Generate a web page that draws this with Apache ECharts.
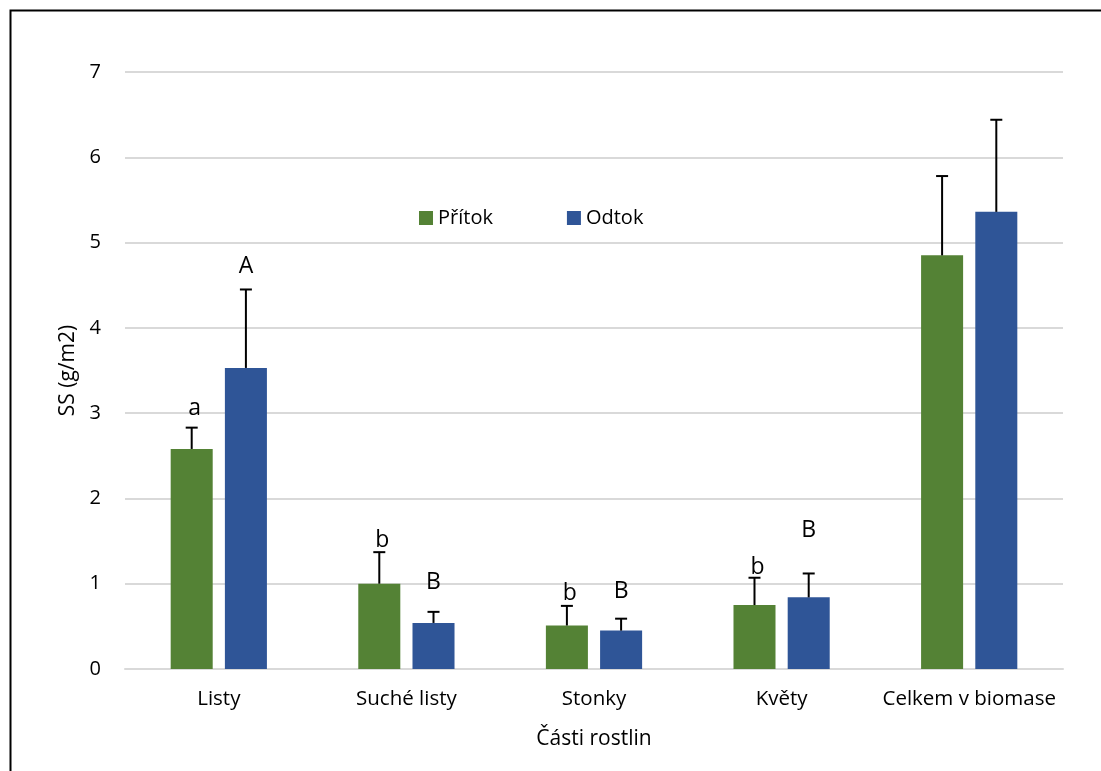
<!DOCTYPE html>
<html>
<head>
<meta charset="utf-8">
<script src="https://cdn.jsdelivr.net/npm/echarts@6/dist/echarts.min.js"></script>
<style>
  html, body { margin: 0; padding: 0; background: #fff; }
  #chart { width: 1101px; height: 771px; }
</style>
</head>
<body>
<div id="chart"></div>
<script>
// Plant parts on the category axis
const categories = ['Listy', 'Suché listy', 'Stonky', 'Květy', 'Celkem v biomase'];
const seriesNames = ['Přítok', 'Odtok'];

// Mean SS (g/m2) per plant part
const pritok = [2.58, 1.00, 0.51, 0.75, 4.85];
const odtok  = [3.53, 0.54, 0.45, 0.84, 5.36];

// Upper error (standard deviation) added on top of each mean
const pritokErr = [0.25, 0.37, 0.23, 0.32, 0.93];
const odtokErr  = [0.92, 0.13, 0.14, 0.28, 1.08];

// Significance letters and the height (in g/m2) where each is written
const pritokLetters = ['a', 'b', 'b', 'b', ''];
const pritokLetterY = [3.06, 1.51, 0.88, 1.19, null];
const odtokLetters  = ['A', 'B', 'B', 'B', ''];
const odtokLetterY  = [4.72, 1.02, 0.91, 1.63, null];

// Axis ticks
const yMin = 0, yMax = 7, yStep = 1;

const colors = ['#548235', '#2F5597'];
const FONT = '"Open Sans"';
const BAR_W = 0.224;   // bar width as share of a category band
const BAR_GAP = 0.29;  // gap between the two bars, share of bar width

function barOffset(api, s) {
  const band = api.size([1, 0])[0];
  const w = band * BAR_W;
  const d = (w + w * BAR_GAP) / 2;
  return s === 0 ? -d : d;
}

function errorSeries(s, means, errs) {
  return {
    type: 'custom',
    name: seriesNames[s] + ' err',
    z: 5,
    silent: true,
    data: means.map((m, i) => [i, m, m + errs[i]]),
    renderItem: function (params, api) {
      const i = api.value(0);
      const lo = api.coord([i, api.value(1)]);
      const hi = api.coord([i, api.value(2)]);
      const x = lo[0] + barOffset(api, s);
      const cap = 6;
      const style = { stroke: '#000', lineWidth: 2 };
      return {
        type: 'group',
        children: [
          { type: 'line', shape: { x1: x, y1: lo[1], x2: x, y2: hi[1] }, style: style },
          { type: 'line', shape: { x1: x - cap, y1: hi[1], x2: x + cap, y2: hi[1] }, style: style }
        ]
      };
    }
  };
}

function letterSeries(s, letters, ys) {
  return {
    type: 'custom',
    name: seriesNames[s] + ' letters',
    z: 6,
    silent: true,
    data: letters.map((t, i) => [i, ys[i] == null ? 0 : ys[i], t]),
    renderItem: function (params, api) {
      const i = params.dataIndex;
      const t = letters[i];
      if (!t) return null;
      const p = api.coord([api.value(0), api.value(1)]);
      return {
        type: 'text',
        style: {
          x: p[0] + barOffset(api, s) + (s === 0 ? 3 : 0),
          y: p[1],
          text: t,
          fill: '#000',
          font: '23px ' + FONT,
          align: 'center',
          verticalAlign: 'middle'
        }
      };
    }
  };
}

const chart = echarts.init(document.getElementById('chart'), null, { renderer: 'canvas' });

chart.setOption({
  animation: false,
  backgroundColor: '#fff',
  textStyle: { fontFamily: FONT },
  graphic: [{
    type: 'rect',
    left: 8, top: 8,
    shape: { width: 1200, height: 900 },
    style: { fill: 'none', stroke: '#000', lineWidth: 2 },
    silent: true
  }],
  legend: {
    data: seriesNames,
    left: 419,
    top: 208,
    padding: 0,
    itemWidth: 14,
    itemHeight: 14,
    itemGap: 74,
    icon: 'rect',
    textStyle: { fontSize: 20, color: '#000', fontFamily: FONT, padding: [0, 0, 0, 0] }
  },
  grid: { left: 125, right: 38, top: 72, bottom: 102 },
  xAxis: {
    type: 'category',
    data: categories,
    name: 'Části rostlin',
    nameLocation: 'middle',
    nameGap: 60,
    nameTextStyle: { fontSize: 21, color: '#000', fontFamily: FONT, verticalAlign: 'top' },
    axisLine: { lineStyle: { color: '#d9d9d9', width: 2 } },
    axisTick: { show: false },
    axisLabel: { fontSize: 20.5, color: '#000', margin: 20, interval: 0, fontFamily: FONT }
  },
  yAxis: {
    type: 'value',
    min: yMin, max: yMax, interval: yStep,
    name: 'SS (g/m2)',
    nameLocation: 'middle',
    nameGap: 46,
    nameTextStyle: { fontSize: 21, color: '#000', fontFamily: FONT },
    axisLine: { show: false },
    axisTick: { show: false },
    axisLabel: { fontSize: 20, color: '#000', margin: 24, fontFamily: FONT },
    splitLine: { lineStyle: { color: '#d9d9d9', width: 2 } }
  },
  series: [
    {
      name: seriesNames[0], type: 'bar', data: pritok,
      barWidth: (BAR_W * 100) + '%', barGap: (BAR_GAP * 100) + '%',
      itemStyle: { color: colors[0] }, z: 3
    },
    {
      name: seriesNames[1], type: 'bar', data: odtok,
      barWidth: (BAR_W * 100) + '%', barGap: (BAR_GAP * 100) + '%',
      itemStyle: { color: colors[1] }, z: 3
    },
    errorSeries(0, pritok, pritokErr),
    errorSeries(1, odtok, odtokErr),
    letterSeries(0, pritokLetters, pritokLetterY),
    letterSeries(1, odtokLetters, odtokLetterY)
  ]
});
</script>
</body>
</html>
